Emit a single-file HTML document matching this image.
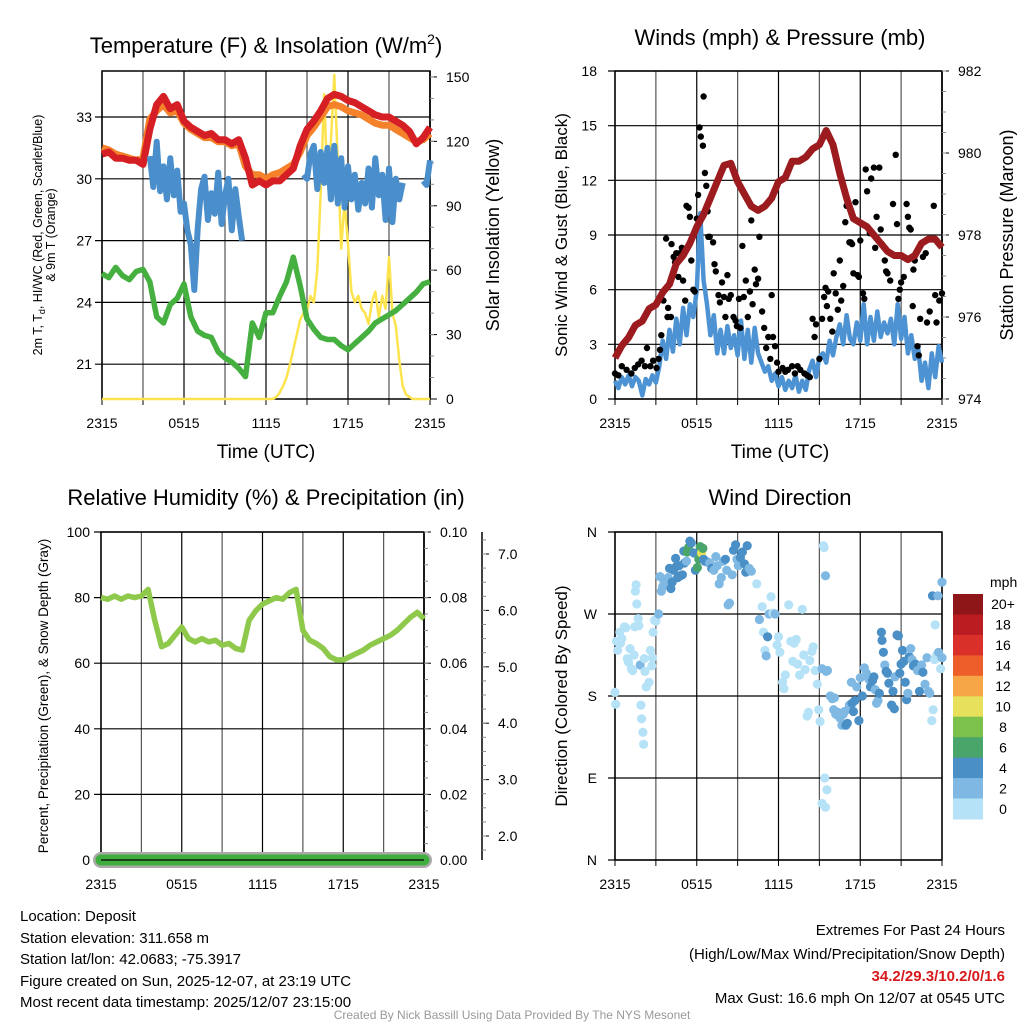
<!DOCTYPE html>
<html><head><meta charset="utf-8"><style>
html,body{margin:0;padding:0;background:#fff}
svg{display:block;font-family:"Liberation Sans",Arial,sans-serif}
</style></head><body>
<svg id="c" width="1024" height="1024" viewBox="0 0 1024 1024" xmlns="http://www.w3.org/2000/svg">
<rect width="1024" height="1024" fill="#fff"/>
<g id="p1"></g>
<g id="p2"></g>
<g id="p3"></g>
<g id="p4"></g>
<g font-size="15" fill="#000">
<text x="20" y="921">Location: Deposit</text>
<text x="20" y="943">Station elevation: 311.658 m</text>
<text x="20" y="964">Station lat/lon: 42.0683; -75.3917</text>
<text x="20" y="986">Figure created on Sun, 2025-12-07, at 23:19 UTC</text>
<text x="20" y="1007">Most recent data timestamp: 2025/12/07 23:15:00</text>
<text x="1005" y="935" text-anchor="end">Extremes For Past 24 Hours</text>
<text x="1005" y="959" text-anchor="end">(High/Low/Max Wind/Precipitation/Snow Depth)</text>
<text x="1005" y="981" text-anchor="end" fill="#d7191c" font-weight="bold">34.2/29.3/10.2/0/1.6</text>
<text x="1005" y="1003" text-anchor="end">Max Gust: 16.6 mph On 12/07 at 0545 UTC</text>
<text x="512" y="1019" text-anchor="middle" font-size="12" fill="#999">Created By Nick Bassill Using Data Provided By The NYS Mesonet</text>
</g>
</svg>
<script>
// ---------- DATA ----------
const xTickLabels = ["2315","0515","1115","1715","2315"];
const tempTicks = [33,30,27,24,21];
const solTicks = [150,120,90,60,30,0];
const windTicks = [18,15,12,9,6,3,0];
const presTicks = [982,980,978,976,974];
const rhTicks = [100,80,60,40,20,0];
const precipTicks = ["0.10","0.08","0.06","0.04","0.02","0.00"];
const snowTicks = ["7.0","6.0","5.0","4.0","3.0","2.0"];
const dirLabels = ["N","W","S","E","N"];
const speedBins = ["20+","18","16","14","12","10","8","6","4","2","0"];
// half-hourly (49)
const tempRed = [31.2,31.3,31.0,31.0,30.9,30.9,30.7,32.4,33.6,34.0,33.4,33.6,32.8,32.5,32.3,32.1,32.2,31.9,31.9,31.7,31.9,31.0,29.7,29.9,29.7,29.9,29.9,30.2,30.5,31.6,32.4,32.8,33.3,33.9,34.1,34.0,33.8,33.7,33.5,33.3,33.1,33.0,33.0,32.8,32.6,32.3,31.7,32.0,32.5];
const temp9m = [31.5,31.4,31.2,31.1,31.0,30.9,31.0,32.9,33.3,33.6,33.2,33.3,32.7,32.4,32.2,32.0,32.0,31.8,31.8,31.6,31.7,30.6,30.2,30.2,30.0,30.2,30.3,30.5,30.7,31.3,32.1,32.5,33.0,33.5,33.6,33.5,33.3,33.2,33.1,32.9,32.7,32.6,32.6,32.4,32.2,32.0,31.8,31.9,32.2];
const dewGreen = [25.4,25.2,25.7,25.3,25.1,25.5,25.6,25.0,23.3,23.0,23.9,24.2,24.9,23.3,22.6,22.4,22.3,21.6,21.3,21.1,20.8,20.4,23.0,22.3,23.5,23.5,24.3,25.0,26.2,24.8,23.2,22.7,22.3,22.2,22.2,21.9,21.7,22.0,22.3,22.6,23.0,23.2,23.4,23.6,23.9,24.2,24.5,24.9,25.0];
// quarter-hourly (97), null = missing
const wcBlue = [null,null,null,null,null,null,null,null,null,null,null,null,null,null,
31.1,29.6,31.8,29.4,30.6,29.0,31.0,29.2,30.4,28.4,28.8,27.5,26.8,24.6,27.6,29.5,30.1,28.0,29.3,28.3,30.3,27.8,29.2,30.0,27.5,29.5,28.2,27.0,
null,null,null,null,null,null,null,null,null,null,null,null,null,null,null,null,null,
30.2,30.0,31.2,31.6,29.5,31.3,29.8,31.5,29.0,31.6,28.8,31.0,28.6,30.6,29.0,30.2,28.5,29.8,28.8,30.5,28.6,31.0,29.2,30.2,28.0,30.5,27.9,30.0,29.0,29.8,
null,null,null,null,null,29.9,29.7,30.9];
const solar = [0,0,0,0,0,0,0,0,0,0,0,0,0,0,0,0,0,0,0,0,0,0,0,0,0,0,0,0,0,0,0,0,0,0,0,0,0,0,0,0,0,0,0,0,0,0,0,0,0,0,0,
1,3,6,10,16,23,30,37,40,41,48,45,60,96,142,100,120,151,111,70,92,72,50,45,48,42,40,35,45,50,38,48,42,66,40,34,18,6,2,1,0,0,0,0,0,0];
const windSpd = [1.0,0.6,1.2,0.8,1.3,0.7,1.2,1.0,0.2,1.1,0.8,1.3,0.9,
1.8,3.2,2.2,3.8,2.6,4.4,3.0,5.0,3.5,5.2,4.5,6.0,
10.2,6.5,5.2,3.5,4.6,2.5,3.8,2.5,4.0,2.8,3.5,2.4,
4.3,2.2,3.8,2.0,3.9,2.5,2.0,1.5,1.8,1.0,1.4,0.7,
1.2,0.5,1.0,0.6,1.3,0.4,1.0,0.5,1.6,2.1,1.2,2.3,
2.5,2.0,3.2,2.4,3.4,4.1,3.0,4.6,3.3,3.0,4.2,3.2,
5.2,3.0,4.5,3.2,4.8,3.4,4.2,3.6,4.4,3.0,5.2,3.3,
4.5,2.5,3.5,2.2,2.8,1.0,2.0,0.6,2.5,1.2,2.9,2.0];
const pressure = [975.0,975.3,975.5,975.8,975.9,976.2,976.3,976.6,976.8,977.3,977.5,977.8,978.2,978.5,978.9,979.3,979.7,979.75,979.3,979.0,978.7,978.6,978.7,978.9,979.3,979.4,979.8,979.8,979.9,980.1,980.2,980.55,980.2,979.5,978.9,978.4,978.3,978.2,978.0,977.8,977.6,977.5,977.5,977.4,977.5,977.8,977.9,977.9,977.7];
const rh = [80,79.5,80.5,79.5,80.5,80,80.5,82.5,73,65,66,68.5,71,67.5,66.5,67.5,66.5,67,65.5,66,64.5,64,73,76,78,79,80,79.5,81.5,82.5,70,67,66,64.5,62,61,61,62,63,64,65.5,66.5,67.5,68.5,70,72,74,75.5,73.5];
const gustT = [0,0.25,0.5,0.85,1.2,1.45,1.7,1.95,2.2,2.35,2.6,2.8,3.05,3.2,3.3,3.4,3.55,3.75,3.85,3.9,4.1,4.15,4.3,4.4,4.5,4.65,4.75,4.9,5.0,5.15,5.25,5.4,5.5,5.6,5.75,5.85,6.0,6.1,6.2,6.3,6.5,6.45,6.6,6.7,6.8,6.85,6.95,7.2,7.3,7.4,7.6,7.7,7.85,8.0,8.1,8.25,8.35,8.5,8.7,8.85,8.95,9.1,9.2,9.35,9.45,9.6,9.75,9.9,10.0,10.1,10.25,10.35,10.5,10.6,10.8,10.95,11.1,11.25,11.4,11.5,11.6,11.75,11.9,12.0,12.3,12.5,12.7,13.0,13.2,13.4,13.6,13.9,14.1,14.3,14.5,14.65,14.75,15.0,15.2,15.35,15.45,15.55,15.65,15.8,15.95,16.05,16.2,16.35,16.5,16.6,16.75,16.9,17.0,17.2,17.3,17.4,17.5,17.65,17.8,17.9,18.0,18.2,18.3,18.4,18.5,18.7,18.8,19.0,19.1,19.2,19.4,19.5,19.6,19.8,19.9,20.0,20.2,20.4,20.6,20.7,20.8,20.9,21.0,21.2,21.4,21.5,21.6,21.7,21.85,21.9,22.0,22.2,22.3,22.4,22.6,22.8,22.9,23.1,23.4,23.5,23.6,23.8,24.0];
const gustV = [1.4,1.3,1.8,1.6,1.4,1.7,1.9,2.1,1.8,2.8,1.8,2.1,1.7,2.2,2.7,3.5,5.4,8.8,4.5,5.0,4.5,8.5,7.8,7.5,8.0,6.7,8.0,8.3,6.5,5.4,10.6,10.5,10.0,7.6,6.0,5.9,9.9,11.2,14.9,14.4,16.6,13.9,12.4,11.7,10.3,8.9,8.9,8.6,7.4,7.0,5.7,5.3,6.4,5.6,4.5,6.8,5.5,5.7,4.5,4.3,4.0,5.5,3.9,8.4,5.6,6.5,4.5,5.9,9.8,5.2,7.1,6.3,6.6,8.9,4.8,3.9,2.8,3.4,2.2,5.7,3.4,2.9,2.0,1.5,1.7,1.5,1.6,1.8,1.4,1.8,1.6,1.4,1.3,1.2,4.4,3.4,4.1,2.2,4.4,5.6,6.1,5.1,5.9,4.4,3.7,6.9,5.8,4.9,7.6,5.4,6.2,9.7,10.6,8.6,8.6,8.5,6.9,10.8,6.8,6.7,8.7,5.8,5.5,12.6,11.4,9.1,12.1,12.7,8.3,10.0,12.7,9.3,8.5,7.6,7.0,6.9,6.5,10.7,13.4,9.6,5.5,6.0,6.4,6.7,10.7,10.0,9.4,9.3,5.1,7.1,7.6,2.9,2.4,4.4,7.8,8.0,4.2,4.8,10.6,5.7,4.2,5.4,5.8];
const dirT = [0,0.05,0.1,0.2,0.35,0.4,0.5,0.7,0.8,0.9,1.0,1.1,1.2,1.3,1.4,1.45,1.5,1.55,1.6,1.7,1.75,1.85,1.9,1.95,2.05,2.1,2.15,2.2,2.3,2.5,2.6,2.7,2.75,2.8,2.9,3.0,3.2,3.3,3.4,3.5,3.6,3.7,3.8,3.9,4.0,4.1,4.2,4.3,4.45,4.5,4.6,4.7,4.8,4.95,5.05,5.1,5.25,5.3,5.4,5.5,5.6,5.8,5.9,6.05,6.15,6.25,6.35,6.45,6.5,6.6,6.8,6.95,7.1,7.25,7.4,7.5,7.65,7.8,7.95,8.1,8.2,8.3,8.4,8.6,8.7,8.85,8.95,9.05,9.2,9.35,9.5,9.6,9.7,9.85,10.0,10.4,10.6,10.8,10.9,11.0,11.1,11.2,11.3,11.45,11.6,11.75,11.9,12.0,12.1,12.3,12.4,12.5,12.75,12.9,13.05,13.15,13.3,13.4,13.55,13.75,13.85,13.95,14.1,14.2,14.3,14.45,14.55,14.7,14.85,14.95,15.05,15.2,15.3,15.35,15.4,15.45,15.5,15.55,15.6,15.45,15.2,15.8,15.95,16.05,16.1,16.2,16.35,16.5,16.65,16.75,16.85,16.95,17.05,17.2,17.35,17.4,17.5,17.6,17.75,17.9,18.0,18.15,18.3,18.45,18.55,18.65,18.75,18.9,19.0,19.1,19.2,19.3,19.4,19.55,19.6,19.7,19.8,19.9,20.0,20.1,20.3,20.4,20.5,20.55,20.7,20.8,20.9,21.0,21.1,21.2,21.3,21.4,21.5,21.6,21.7,21.8,21.9,22.05,22.2,22.35,22.5,22.6,22.75,22.9,23.0,23.1,23.25,23.35,23.45,23.6,23.75,23.9,24.0,24.0,23.3,23.5,23.7];
const dirDeg = [184,171,240,230,250,238,243,256,255,221,217,232,210,208,225,256,295,302,281,265,257,214,170,155,140,127,221,207,190,195,230,213,222,250,263,262,270,311,295,300,305,307,303,310,320,298,305,318,331,322,310,323,312,313,339,326,328,338,343,350,348,337,318,321,330,344,337,342,330,328,327,326,320,318,333,323,303,310,328,330,318,280,282,313,340,346,330,323,332,338,325,316,345,320,317,303,264,278,250,230,224,245,270,289,271,270,236,245,228,195,188,203,280,240,218,238,242,215,203,275,225,209,158,162,219,229,234,208,193,165,152,210,345,343,90,312,207,77,208,58,62,180,177,165,178,160,162,156,148,160,163,148,150,170,195,172,163,175,190,153,200,180,211,205,201,198,190,197,201,187,172,175,183,250,241,228,214,207,205,194,170,185,166,201,247,246,205,215,230,218,195,176,183,223,232,220,213,215,208,185,214,206,193,222,185,183,153,165,220,225,228,210,222,305,290,258,290];
const dirSpd = [1,1,1,1,1,1,1,1,1,1,1,1,1,1,1,1,1,1,1,1,1,3,1,1,1,1,1,1,1,1,1,1,1,1,1,1,3,3,3,3,3,3,3,3,5,5,5,5,5,5,5,5,5,5,5,5,3,7,7,5,5,5,5,7,7,7,11,7,5,5,5,3,5,3,3,3,3,3,3,5,3,3,3,3,5,5,3,3,5,5,5,5,5,3,3,1,3,1,1,1,3,5,3,1,1,3,1,1,1,1,1,1,1,1,1,1,1,1,1,1,1,1,1,1,1,1,1,1,1,1,1,3,1,1,1,3,3,1,3,1,1,3,3,3,3,3,3,3,3,3,3,5,5,3,3,5,5,5,3,5,3,5,3,3,3,3,5,5,5,3,3,3,5,5,5,5,3,5,5,5,5,5,5,3,5,5,5,5,5,5,5,5,3,5,3,3,5,5,3,5,3,5,3,3,3,3,1,1,1,1,3,1,3,3,5,1,3,1];
const binColors = ["#8e1518","#bb1c22","#d9302a","#ee5e2a","#f6a646","#e6e05a","#7bc14c","#4aa56a","#4a8fc6","#7fb9e3","#b6e2f7"];

// ---------- helpers ----------
const NS="http://www.w3.org/2000/svg";
function mk(parent,tag,attrs,txt){const e=document.createElementNS(NS,tag);for(const k in attrs)e.setAttribute(k,attrs[k]);if(txt!==undefined)e.textContent=txt;parent.appendChild(e);return e;}
function linePath(vals,tOf,xf,yf){let d="",pen=false;vals.forEach((v,i)=>{if(v===null){pen=false;return;}d+=(pen?"L":"M")+xf(tOf(i)).toFixed(1)+","+yf(v).toFixed(1);pen=true;});return d;}
const half=i=>i*0.5, quarter=i=>i*0.25;

function frame(g,L,R,T,B,vals,yf,hLabelsX,labels){
  for(let k=0;k<=8;k++){const x=L+(R-L)*k/8;
    const gl=mk(g,"line",{x1:x,y1:T,x2:x,y2:B,stroke:k%2?"#555":"#000","stroke-width":1.2});
    
    
    const tk=mk(g,"line",{x1:x,y1:B,x2:x,y2:B+6,stroke:"#000","stroke-width":1});
    
    }
  vals.forEach((v,i)=>{const y=yf(v);
    const gl=mk(g,"line",{x1:L-7,y1:y,x2:R,y2:y,stroke:"#000","stroke-width":1.2});
    
    
    if(labels){const t=mk(g,"text",{x:hLabelsX,y:y+5,"text-anchor":"end","font-size":14},labels[i]);
      
      }});
  const fr=mk(g,"rect",{x:L,y:T,width:R-L,height:B-T,fill:"none",stroke:"#000","stroke-width":1.5});
  
  
  xTickLabels.forEach((s,k)=>{const t=mk(g,"text",{x:L+(R-L)*k/4,y:B+29,"text-anchor":"middle","font-size":14},s);
    
    });
}
function rightAxis(g,x,vals,yf,labels,T,B,minorStep,minorF){
  mk(g,"line",{x1:x,y1:T,x2:x,y2:B,stroke:"#000","stroke-width":1.5});
  vals.forEach((v,i)=>{const y=yf(v);mk(g,"line",{x1:x,y1:y,x2:x+7,y2:y,stroke:"#000"});
    const t=mk(g,"text",{x:x+16,y:y+5,"font-size":14},labels[i]);
    
    });
  if(minorF)minorF.forEach(v=>{const y=yf(v);if(y>=T&&y<=B)mk(g,"line",{x1:x,y1:y,x2:x+4,y2:y,stroke:"#888"});});
}
function title(g,x,y,txt,name,size){const t=mk(g,"text",{x:x,y:y,"text-anchor":"middle","font-size":size||22},txt);
  
  return t;}
function vtitle(g,x,y,txt,name,size){const t=mk(g,"text",{x:x,y:y,"text-anchor":"middle","font-size":size||18,transform:`rotate(-90 ${x} ${y})`},txt);
  
  return t;}

// ---------- Panel 1 ----------
(function(){
const g=document.getElementById("p1");
const L=102,R=430,T=71,B=399;
const x=t=>L+t*(R-L)/24, yT=v=>117+(33-v)*20.6, yS=v=>B-v*2.147;
frame(g,L,R,T,B,tempTicks,yT,92,tempTicks.map(String));
const mins=[];for(let v=10;v<=150;v+=10)mins.push(v);
rightAxis(g,R,solTicks,yS,solTicks.map(String),T,B,10,mins);
const ys=mk(g,"path",{d:linePath(solar,quarter,x,yS),fill:"none",stroke:"#fde44f","stroke-width":2.5,"stroke-linejoin":"round"});


const gr=mk(g,"path",{d:linePath(dewGreen,half,x,yT),fill:"none",stroke:"#45b03f","stroke-width":5.5,"stroke-linejoin":"round"});


const or=mk(g,"path",{d:linePath(temp9m,half,x,yT),fill:"none",stroke:"#f5822a","stroke-width":7,"stroke-linejoin":"round"});


const rd=mk(g,"path",{d:linePath(tempRed,half,x,yT),fill:"none",stroke:"#d51f24","stroke-width":7,"stroke-linejoin":"round"});


const bl=mk(g,"path",{d:linePath(wcBlue,quarter,x,yT),fill:"none",stroke:"#4a8fcb","stroke-width":6,"stroke-linejoin":"round"});


const tt=mk(g,"text",{x:266,y:53,"text-anchor":"middle","font-size":22},"Temperature (F) & Insolation (W/m");


mk(tt,"tspan",{"font-size":14,dy:-9},"2");mk(tt,"tspan",{dy:9},")");
const a=mk(g,"text",{x:42,y:235,"text-anchor":"middle","font-size":12.5,transform:"rotate(-90 42 235)"},"2m T, T");


mk(a,"tspan",{"font-size":9,dy:3},"d");mk(a,"tspan",{dy:-3},", HI/WC (Red, Green, Scarlet/Blue)");
vtitle(g,55,235,"& 9m T (Orange)","temperature-y-title-2",12.5);
vtitle(g,499,235,"Solar Insolation (Yellow)","solar-y-title",18);
title(g,266,458,"Time (UTC)","x-axis-title-1",19);
})();

// ---------- Panel 2 ----------
(function(){
const g=document.getElementById("p2");
const L=615,R=942,T=71,B=399;
const x=t=>L+t*(R-L)/24, yW=v=>B-v*(B-T)/18, yP=p=>B-(p-974)*(B-T)/8;
frame(g,L,R,T,B,windTicks,yW,597,windTicks.map(String));
const mins=[];for(let p=974;p<=982;p+=0.5)mins.push(p);
rightAxis(g,R,presTicks,yP,presTicks.map(String),T,B,0.5,mins);
const wl=mk(g,"path",{d:linePath(windSpd,quarter,x,yW),fill:"none",stroke:"#4d93d3","stroke-width":4.5,"stroke-linejoin":"round"});


gustT.forEach((t,i)=>{const c=mk(g,"circle",{cx:x(t).toFixed(1),cy:yW(gustV[i]).toFixed(1),r:3.2,fill:"#000"});
  
  });
const pl=mk(g,"path",{d:linePath(pressure,half,x,yP),fill:"none",stroke:"#9b1b1e","stroke-width":7,"stroke-linejoin":"round"});


title(g,780,45,"Winds (mph) & Pressure (mb)","winds-title");
vtitle(g,567,235,"Sonic Wind & Gust (Blue, Black)","wind-y-title",17);
vtitle(g,1013,235,"Station Pressure (Maroon)","pressure-y-title",18);
title(g,780,458,"Time (UTC)","x-axis-title-2",19);
})();

// ---------- Panel 3 ----------
(function(){
const g=document.getElementById("p3");
const L=101,R=424,T=532,B=860;
const x=t=>L+t*(R-L)/24, yR=v=>B-v*(B-T)/100;
frame(g,L,R,T,B,rhTicks,yR,90,rhTicks.map(String));
const mins=[];for(let v=0;v<=100;v+=5)mins.push(v);
rightAxis(g,R,rhTicks,yR,precipTicks,T,B,5,mins);
const sx=482,yS=v=>836-(v-2)*(836-554)/5;
const sa=mk(g,"line",{x1:sx,y1:T,x2:sx,y2:B,stroke:"#000","stroke-width":1.5});


snowTicks.forEach(s=>{const y=yS(parseFloat(s));mk(g,"line",{x1:sx,y1:y,x2:sx+7,y2:y,stroke:"#000"});
  const t=mk(g,"text",{x:sx+16,y:y+5,"font-size":14},s);
  
  });
for(let v=1.75;v<=7.25;v+=0.25){const y=yS(v);if(y>=T&&y<=B)mk(g,"line",{x1:sx,y1:y,x2:sx+4,y2:y,stroke:"#888"});}
const sn=mk(g,"line",{x1:L,y1:B,x2:R,y2:B,stroke:"#aaa","stroke-width":16,"stroke-linecap":"round"});


const pr=mk(g,"line",{x1:L,y1:B,x2:R,y2:B,stroke:"#3fae3f","stroke-width":11,"stroke-linecap":"round"});


mk(g,"line",{x1:L,y1:B,x2:R,y2:B,stroke:"#000","stroke-width":1.2});
const rl=mk(g,"path",{d:linePath(rh,half,x,yR),fill:"none",stroke:"#8fc94c","stroke-width":5.5,"stroke-linejoin":"round"});


title(g,266,505,"Relative Humidity (%) & Precipitation (in)","humidity-title");
vtitle(g,48,696,"Percent, Precipitation (Green), & Snow Depth (Gray)","humidity-y-title",13.5);
})();

// ---------- Panel 4 ----------
(function(){
const g=document.getElementById("p4");
const L=615,R=942,T=532,B=860;
const x=t=>L+t*(R-L)/24, yD=d=>T+(360-d)*(B-T)/360;
frame(g,L,R,T,B,[360,270,180,90,0],yD,597,dirLabels);
const colOf=s=>binColors[10-Math.min(10,Math.floor(s/2))];
dirT.forEach((t,i)=>{const c=mk(g,"circle",{cx:x(t).toFixed(1),cy:yD(dirDeg[i]).toFixed(1),r:4.6,fill:colOf(dirSpd[i])});
  
  });
const h=(819-594)/11;
speedBins.forEach((s,i)=>{const r=mk(g,"rect",{x:953,y:(594+i*h).toFixed(1),width:30,height:(h+0.5).toFixed(1),fill:binColors[i]});
  
  
  const t=mk(g,"text",{x:1003,y:(594+i*h+h/2+5).toFixed(1),"text-anchor":"middle","font-size":14},s);
  
  });
const u=mk(g,"text",{x:990,y:587,"font-size":14},"mph");


title(g,780,505,"Wind Direction","wind-direction-title");
vtitle(g,567,696,"Direction (Colored By Speed)","direction-y-title",17);
})();
</script>
</body></html>
